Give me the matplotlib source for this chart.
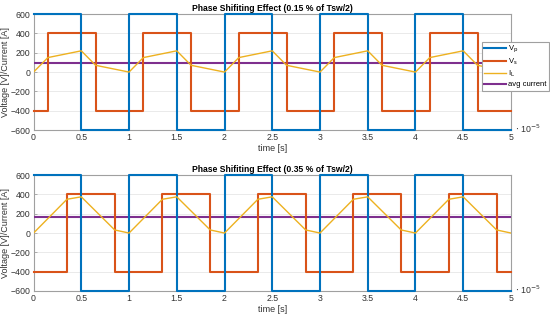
import matplotlib
matplotlib.use("Agg")
import matplotlib.pyplot as plt

plt.rcParams['font.family'] = ['Liberation Sans', 'DejaVu Sans']

# time axis in units of 1e-5 s
vp_t = [0, 0.5, 1, 1.5, 2, 2.5, 3, 3.5, 4, 4.5, 5]
vp_v = [600, -600, 600, -600, 600, -600, 600, -600, 600, -600, -600]

# top: 0.15 % phase shift
vs1_t = [0, 0.15, 0.65, 1.15, 1.65, 2.15, 2.65, 3.15, 3.65, 4.15, 4.65, 5]
vs1_v = [-400, 400, -400, 400, -400, 400, -400, 400, -400, 400, -400, -400]
il1_t = [0, 0.15, 0.5, 0.65, 1.0, 1.15, 1.5, 1.65, 2.0, 2.15, 2.5, 2.65, 3.0,
         3.15, 3.5, 3.65, 4.0, 4.15, 4.5, 4.65, 5.0]
il1_v = [0, 150, 220, 70, 0, 150, 220, 70, 0, 150, 220, 70, 0,
         150, 220, 70, 0, 150, 220, 70, 0]
avg1 = 95

# bottom: 0.35 % phase shift
vs2_t = [0, 0.35, 0.85, 1.35, 1.85, 2.35, 2.85, 3.35, 3.85, 4.35, 4.85, 5]
vs2_v = [-400, 400, -400, 400, -400, 400, -400, 400, -400, 400, -400, -400]
il2_t = [0, 0.35, 0.5, 0.85, 1.0, 1.35, 1.5, 1.85, 2.0, 2.35, 2.5, 2.85, 3.0,
         3.35, 3.5, 3.85, 4.0, 4.35, 4.5, 4.85, 5.0]
il2_v = [0, 350, 375, 32, 0, 350, 375, 32, 0, 350, 375, 32, 0,
         350, 375, 32, 0, 350, 375, 32, 0]
avg2 = 165

titles = ["Phase Shifiting Effect (0.15 % of Tsw/2)",
          "Phase Shifiting Effect (0.35 % of Tsw/2)"]
xticks = [0, 0.5, 1, 1.5, 2, 2.5, 3, 3.5, 4, 4.5, 5]
xticklabels = ["0", "0.5", "1", "1.5", "2", "2.5", "3", "3.5", "4", "4.5", "5"]
yticks = [-600, -400, -200, 0, 200, 400, 600]

C_VP = '#0072BD'
C_VS = '#D95319'
C_IL = '#EDB120'
C_AVG = '#7E2F8E'

fig = plt.figure(figsize=(5.5, 3.21), dpi=100)
ax1 = fig.add_axes([0.061, 0.595, 0.868, 0.361])
ax2 = fig.add_axes([0.061, 0.0935, 0.868, 0.361])

data = [(vs1_t, vs1_v, il1_t, il1_v, avg1), (vs2_t, vs2_v, il2_t, il2_v, avg2)]
for i, (ax, (vst, vsv, ilt, ilv, avg)) in enumerate(zip([ax1, ax2], data)):
    ax.plot(vp_t, vp_v, drawstyle='steps-post', color=C_VP, lw=1.5,
            label='V$_\\mathrm{p}$', clip_on=False, zorder=5)
    ax.plot(vst, vsv, drawstyle='steps-post', color=C_VS, lw=1.5,
            label='V$_\\mathrm{s}$', clip_on=False, zorder=4)
    ax.plot(ilt, ilv, color=C_IL, lw=1.0, label='I$_\\mathrm{L}$', zorder=6)
    ax.axhline(avg, color=C_AVG, lw=1.5, label='avg current', zorder=3)
    ax.set_xlim(0, 5)
    ax.set_ylim(-600, 600)
    ax.set_xticks(xticks)
    ax.set_xticklabels(xticklabels)
    ax.set_yticks(yticks)
    ax.grid(True, color='#e6e6e6', lw=0.6)
    ax.set_axisbelow(True)
    for s in ax.spines.values():
        s.set_color('#a0a0a0')
        s.set_linewidth(0.8)
    ax.tick_params(labelsize=6.3, length=2, width=0.6, direction='in', pad=2.5,
                   colors='#a0a0a0', labelcolor='#333333')
    ax.set_title(titles[i], fontsize=6.2, fontweight='bold', pad=2)
    ax.set_xlabel('time [s]', fontsize=6.5, color='#333333', labelpad=1)
    ax.set_ylabel('Voltage [V]/Current [A]', fontsize=6.5, color='#333333')
    ax.yaxis.set_label_coords(-0.05, 0.5)
    ax.text(1.008, 0.01, '$\\cdot$ 10$^{-5}$', transform=ax.transAxes, fontsize=6.3,
            color='#333333', va='center', ha='left')

leg = ax1.legend(loc='upper left', bbox_to_anchor=(0.939, 0.76), fontsize=5.5,
                 frameon=True, fancybox=False, borderpad=0.3, labelspacing=0.2,
                 handlelength=2.8, handletextpad=0.3, borderaxespad=0)
leg.get_frame().set_edgecolor('#a0a0a0')
leg.get_frame().set_linewidth(0.8)
leg.get_frame().set_alpha(1)
leg.set_zorder(10)

fig.savefig('out.png', dpi=100)
